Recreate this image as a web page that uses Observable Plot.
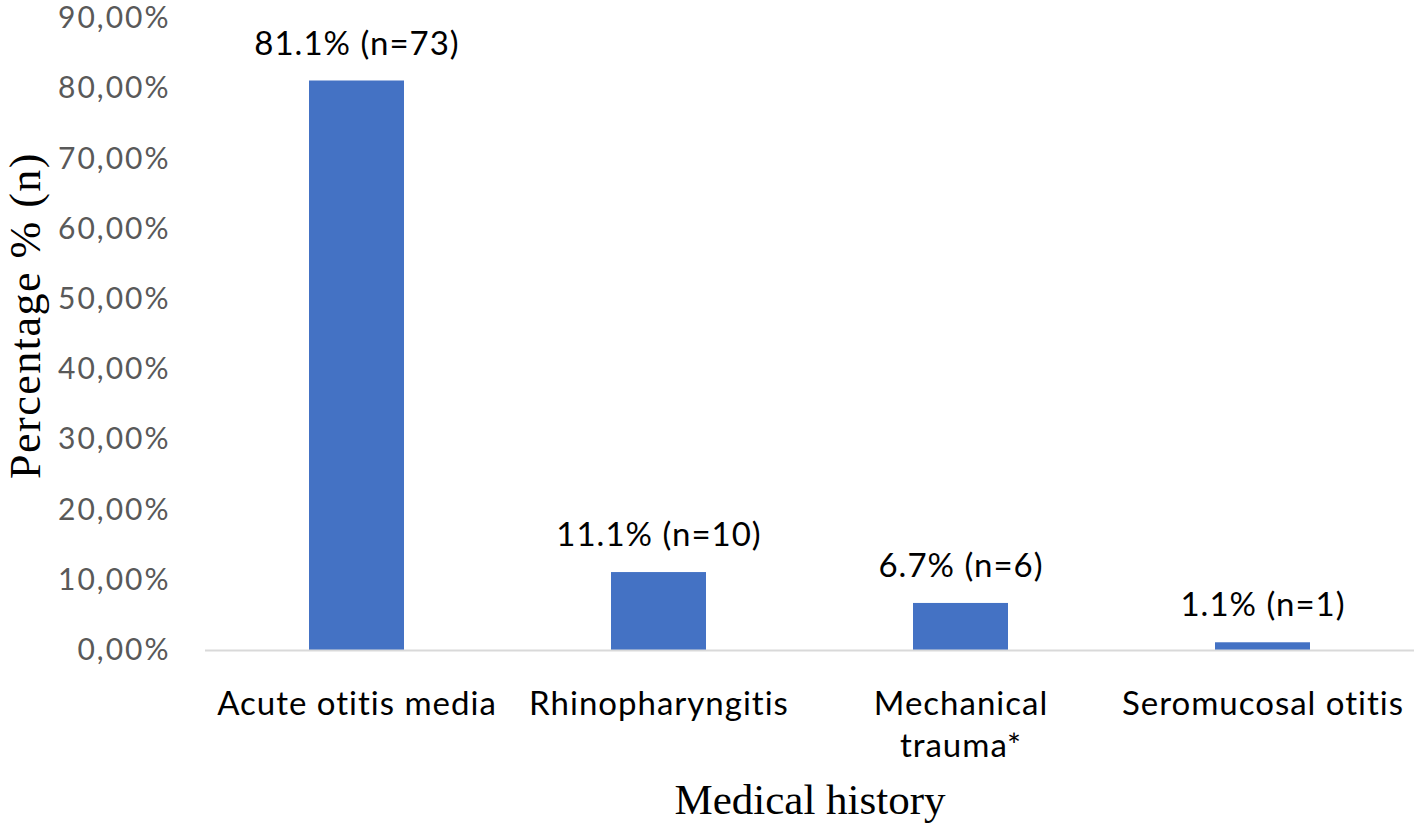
<!DOCTYPE html>
<html><head><meta charset="utf-8">
<script src="https://cdn.jsdelivr.net/npm/d3@7"></script>
<script src="https://cdn.jsdelivr.net/npm/@observablehq/plot@0.6"></script>
<style>
body{margin:0;background:#fff}
g[aria-label="y-axis tick label"] text{letter-spacing:2px}
g[aria-label="x-axis tick label"] text{letter-spacing:1px}
g.datalabel text{letter-spacing:1px}
g.ytitle text{letter-spacing:1.5px}
</style>
</head><body><div id="chart"></div>
<script>
const categories = ["Acute otitis media", "Rhinopharyngitis", "Mechanical\ntrauma*", "Seromucosal otitis"];
const percentages = [81.1, 11.1, 6.7, 1.1];
const counts = [73, 10, 6, 1];
const yTicks = [0, 10, 20, 30, 40, 50, 60, 70, 80, 90];
const xTitle = "Medical history";
const yTitle = "Percentage % (n)";

const data = categories.map((c, i) => ({
  category: c, pct: percentages[i], n: counts[i],
  label: `${percentages[i]}% (n=${counts[i]})`
}));

const sans = "Lato, 'Open Sans', sans-serif";
const serif = "'Liberation Serif', 'DejaVu Serif', serif";

const chart = Plot.plot({
  width: 1416, height: 829,
  marginLeft: 205, marginRight: 2, marginTop: 18, marginBottom: 179,
  style: {background: "#fff", fontFamily: sans},
  x: {domain: categories, paddingInner: 0.686, paddingOuter: 0.343},
  y: {domain: [0, 90]},
  marks: [
    Plot.barY(data, {x: "category", y: "pct", fill: "#4472c4"}),
    Plot.ruleY([0], {stroke: "#d9d9d9", strokeWidth: 2}),
    Plot.text(data, {x: "category", y: "pct", text: "label", dy: -37, lineAnchor: "middle",
      fontSize: 33, fill: "#000", fontFamily: sans, className: "datalabel"}),
    Plot.axisY({ticks: yTicks, tickSize: 0, tickPadding: 35, label: null, fontSize: 30,
      color: "#595959", tickFormat: d => d.toFixed(2).replace(".", ",") + "%"}),
    Plot.axisX({tickSize: 0, tickPadding: 34, label: null, fontSize: 33, lineHeight: 1.28,
      color: "#000"}),
    Plot.text([xTitle], {frameAnchor: "bottom", dy: 150, lineAnchor: "middle",
      fontSize: 43, fontFamily: serif, fill: "#000"}),
    Plot.text([yTitle], {frameAnchor: "left", textAnchor: "middle", dx: -180, dy: -19, rotate: -90,
      lineAnchor: "middle", fontSize: 44, fontFamily: serif, fill: "#000", className: "ytitle"})
  ]
});
document.getElementById("chart").appendChild(chart);
</script>
</body></html>
